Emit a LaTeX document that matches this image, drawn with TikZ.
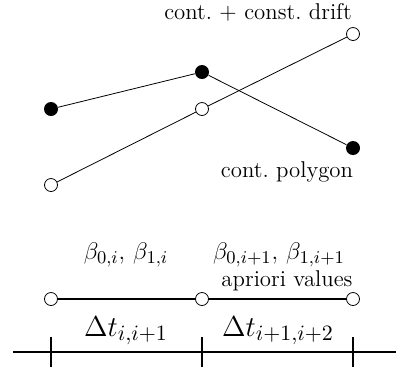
\documentclass[tikz,border=0pt]{standalone}
\usepackage{amsmath, amssymb}
\usetikzlibrary{positioning}

\begin{document}
\begin{tikzpicture}[x=0.5pt, y=-0.5pt,
    font=\fontsize{11.4}{13}\selectfont,
    dot/.style={circle, fill, inner sep=0pt, minimum size=7pt},
    ring/.style={circle, draw, thin, inner sep=0pt, minimum size=6.5pt}]
  \useasboundingbox (0,0) rectangle (396,372);
  % continuous polygon
  \node[dot] (p1) at (51,109) {};
  \node[dot] (p2) at (202,72) {};
  \node[dot] (p3) at (353,148) {};
  \draw[thin] (p1) -- (p2) -- (p3);
  \node (poly) at (287,172) {cont.\ polygon};
  % continuous + constant drift
  \node[ring] (d1) at (51,185) {};
  \node[ring] (d2) at (202,109) {};
  \node[ring] (d3) at (353,34) {};
  \draw[thin] (d1) -- (d2) -- (d3);
  \node (drift) at (258,12) {cont.\ + const.\ drift};
  % apriori values
  \node[ring] (a1) at (51,299) {};
  \node[ring] (a2) at (202,299) {};
  \node[ring] (a3) at (353,299) {};
  \draw[line width=1pt] (a1) -- (a2) -- (a3);
  \node (b1) at (126,255) {\fontsize{12.4}{14}\selectfont $\beta_{0,i},\,\beta_{1,i}$};
  \node (b2) at (279,255) {\fontsize{12.4}{14}\selectfont $\beta_{0,i+1},\,\beta_{1,i+1}$};
  \node (apr) at (287,281) {apriori values};
  % time axis
  \coordinate (ax0) at (13,352);
  \coordinate (ax1) at (396,352);
  \draw[line width=1pt] (ax0) -- (ax1);
  \foreach \x in {51,202,353}
    \draw[line width=1pt] (\x,337) -- (\x,367);
  \node (dt1) at (126,331) {\fontsize{15}{18}\selectfont $\Delta t_{i,i+1}$};
  \node (dt2) at (278,331) {\fontsize{15}{18}\selectfont $\Delta t_{i+1,i+2}$};
\end{tikzpicture}
\end{document}
